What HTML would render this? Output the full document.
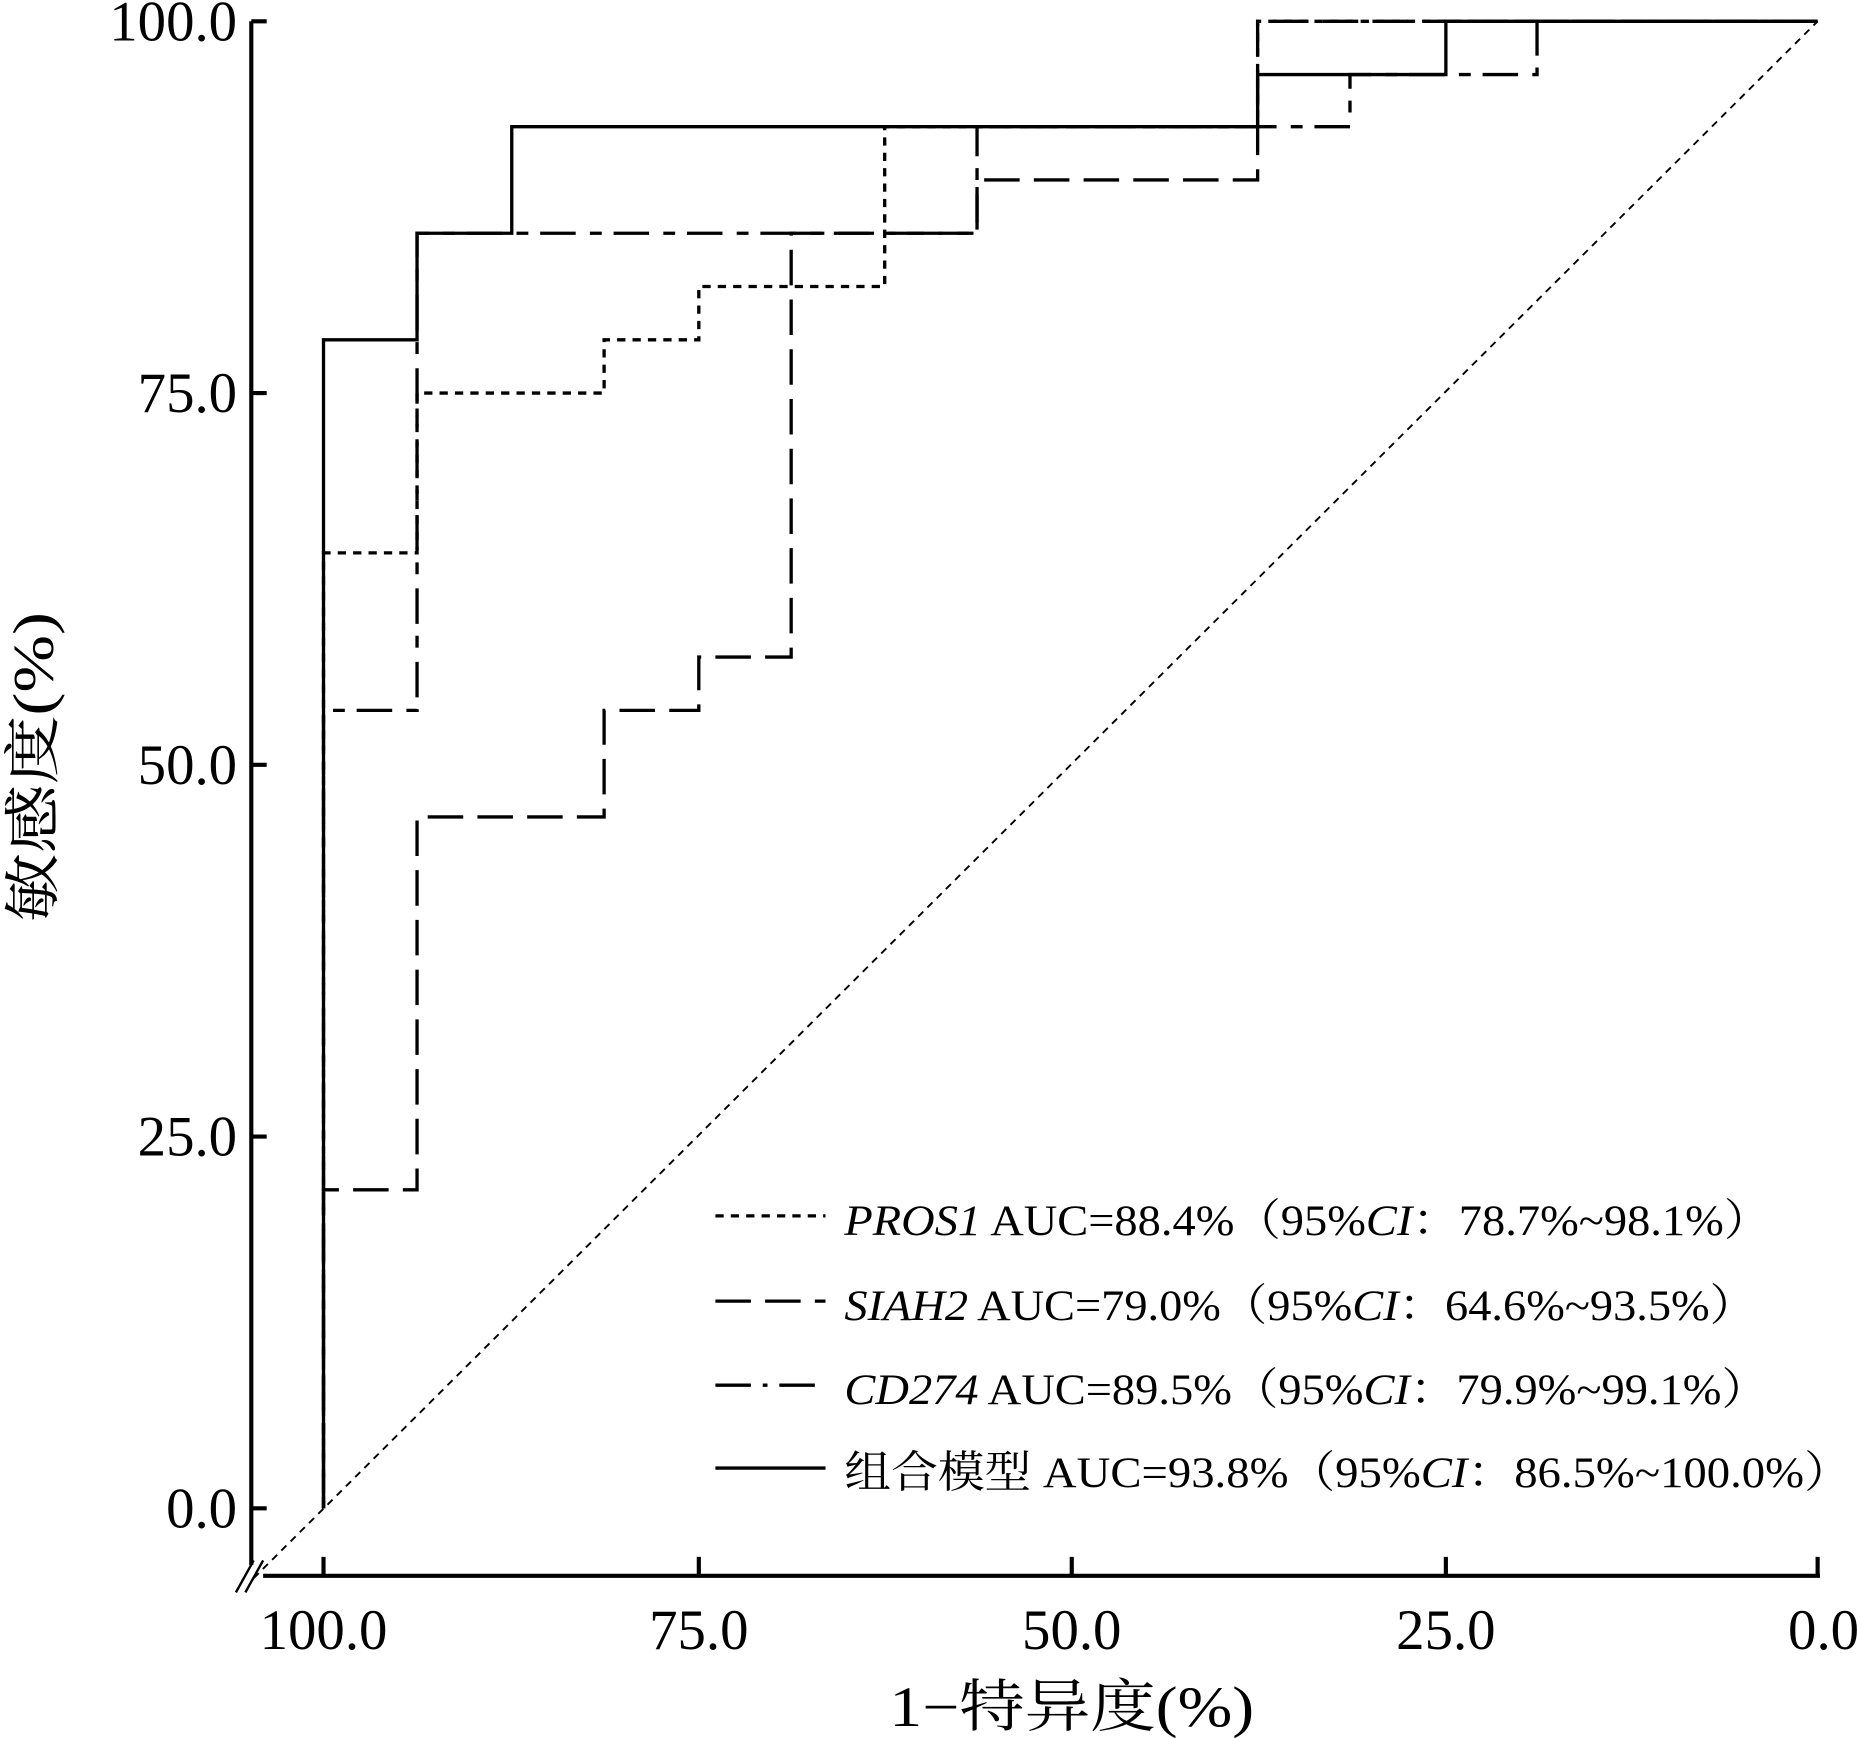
<!DOCTYPE html>
<html><head><meta charset="utf-8"><style>html,body{margin:0;padding:0;background:#fff}svg{display:block}</style></head>
<body>
<svg width="1857" height="1738" viewBox="0 0 1568 1468" xmlns="http://www.w3.org/2000/svg" font-family="'Liberation Serif','Noto Serif CJK SC',serif">
<rect width="1568" height="1468" fill="#fff"/>
<g stroke="#000" stroke-width="3.5" fill="none">
<line x1="212" y1="18" x2="212" y2="1322"/>
<line x1="222" y1="1331" x2="1537" y2="1331"/>
<line x1="212" y1="18" x2="225" y2="18"/>
<line x1="212" y1="332" x2="225" y2="332"/>
<line x1="212" y1="646" x2="225" y2="646"/>
<line x1="212" y1="960" x2="225" y2="960"/>
<line x1="212" y1="1274" x2="225" y2="1274"/>
<line x1="273" y1="1331" x2="273" y2="1315"/>
<line x1="590" y1="1331" x2="590" y2="1315"/>
<line x1="905" y1="1331" x2="905" y2="1315"/>
<line x1="1221" y1="1331" x2="1221" y2="1315"/>
<line x1="1535" y1="1331" x2="1535" y2="1315"/>
</g>
<g stroke="#000" stroke-width="2"><line x1="199" y1="1345" x2="214" y2="1318"/><line x1="207" y1="1345" x2="222" y2="1318"/></g>
<line x1="214" y1="1333" x2="1535" y2="18" stroke="#000" stroke-width="1.6" stroke-dasharray="6,5"/>
<g fill="none" stroke="#000" stroke-width="2.8">
<polyline stroke-dasharray="7,6" points="273,1274 273,467 352,467 352,332 510,332 510,287 590,287 590,242 747,242 747,107 1062,107 1062,18 1535,18"/>
<polyline stroke-dasharray="10,10,30,12" points="273,1274 273,600 352,600 352,197 825,197 825,107 1140,107 1140,63 1298,63 1298,18 1535,18"/>
<polyline stroke-dasharray="30,12" points="273,1274 273,1005 352,1005 352,690 510,690 510,600 590,600 590,555 668,555 668,197 825,197 825,152 1062,152 1062,18 1535,18"/>
<polyline points="273,1274 273,287 352,287 352,197 432,197 432,107 1062,107 1062,63 1221,63 1221,18 1535,18"/>
</g>
<g font-size="48" text-anchor="end">
<text x="200" y="34">100.0</text>
<text x="200" y="348">75.0</text>
<text x="200" y="662">50.0</text>
<text x="200" y="976">25.0</text>
<text x="200" y="1290">0.0</text>
</g>
<g font-size="48" text-anchor="middle">
<text x="273" y="1393">100.0</text>
<text x="590" y="1393">75.0</text>
<text x="905" y="1393">50.0</text>
<text x="1221" y="1393">25.0</text>
<text x="1540" y="1393">0.0</text>
</g>
<text x="905" y="1458" font-size="48" text-anchor="middle" textLength="308" lengthAdjust="spacingAndGlyphs">1−特异度(%)</text>
<text transform="translate(44,648) rotate(-90)" font-size="48" text-anchor="middle" textLength="262" lengthAdjust="spacingAndGlyphs">敏感度(%)</text>
<g stroke="#000" stroke-width="2.8">
<line x1="604" y1="1027" x2="697" y2="1027" stroke-dasharray="7,6"/>
<line x1="604" y1="1099" x2="697" y2="1099" stroke-dasharray="30,12"/>
<line x1="604" y1="1170" x2="697" y2="1170" stroke-dasharray="30,10,4,10"/>
<line x1="604" y1="1240" x2="697" y2="1240"/>
</g>
<g font-size="37">
<text x="713" y="1043" textLength="782" lengthAdjust="spacingAndGlyphs"><tspan font-style="italic">PROS1</tspan> AUC=88.4%（95%<tspan font-style="italic">CI</tspan>：78.7%~98.1%）</text>
<text x="713" y="1115" textLength="770" lengthAdjust="spacingAndGlyphs"><tspan font-style="italic">SIAH2</tspan> AUC=79.0%（95%<tspan font-style="italic">CI</tspan>：64.6%~93.5%）</text>
<text x="713" y="1186" textLength="780" lengthAdjust="spacingAndGlyphs"><tspan font-style="italic">CD274</tspan> AUC=89.5%（95%<tspan font-style="italic">CI</tspan>：79.9%~99.1%）</text>
<text x="713" y="1256" textLength="850" lengthAdjust="spacingAndGlyphs">组合模型 AUC=93.8%（95%<tspan font-style="italic">CI</tspan>：86.5%~100.0%）</text>
</g>
</svg>
</body></html>
